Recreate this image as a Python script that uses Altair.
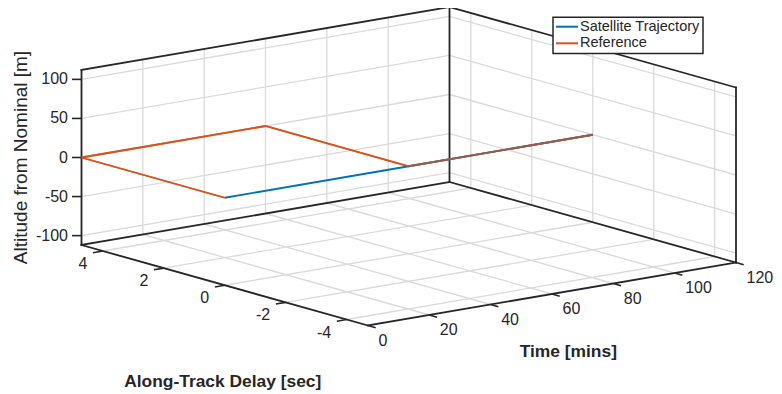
import altair as alt
import pandas as pd
import numpy as np

# ---------------- data ----------------
series = ["Satellite Trajectory", "Reference"]
colors = ["#0072BD", "#D95319"]

sat_time = [0, 60, 120]
sat_delay = [0, 0, 0]
sat_alt = [0, 0, 0]

ref_time = [0, 0, 60, 60, 120]
ref_delay = [0, 4.7, 4.7, 0, 0]
ref_alt = [0, 0, 0, 0, 0]

time_ticks = [0, 20, 40, 60, 80, 100, 120]
delay_ticks = [-4, -2, 0, 2, 4]
alt_ticks = [-100, -50, 0, 50, 100]

time_lim = (0, 120)
delay_lim = (-4.7, 4.7)
alt_lim = (-112, 112)

# ---------------- view (orthographic projection of the axes box) ----------------
ORIGIN = (81.5, 245.0)   # corner: time min, delay max, altitude min
VT = (368.0, -63.0)      # time min -> max
VD = (286.5, 80.5)       # delay max -> min
VZ = (0.0, -175.0)       # altitude min -> max

W, H = 766, 382
M = 8
INK = "#262626"
GRID = "#dadada"
FONT = "Liberation Sans"


def proj(t, d, z):
    ft = (t - time_lim[0]) / (time_lim[1] - time_lim[0])
    fd = (delay_lim[1] - d) / (delay_lim[1] - delay_lim[0])
    fz = (z - alt_lim[0]) / (alt_lim[1] - alt_lim[0])
    return (ORIGIN[0] + ft * VT[0] + fd * VD[0] + fz * VZ[0],
            ORIGIN[1] + ft * VT[1] + fd * VD[1] + fz * VZ[1])


def seg(p, q):
    a = proj(*p)
    b = proj(*q)
    return {"x": a[0], "y": a[1], "x2": b[0], "y2": b[1]}


t0, t1 = time_lim
d0, d1 = delay_lim
z0, z1 = alt_lim

# grid lines on the back walls and floor
grid = []
for t in time_ticks:
    grid.append(seg((t, d1, z0), (t, d1, z1)))
    grid.append(seg((t, d1, z0), (t, d0, z0)))
for z in alt_ticks:
    grid.append(seg((t0, d1, z), (t1, d1, z)))
    grid.append(seg((t1, d1, z), (t1, d0, z)))
for d in delay_ticks:
    grid.append(seg((t1, d, z0), (t1, d, z1)))
    grid.append(seg((t0, d, z0), (t1, d, z0)))
grid_df = pd.DataFrame(grid)

# box edges (back style) plus axis lines
edges = [
    ((t0, d1, z0), (t0, d1, z1)),
    ((t0, d1, z1), (t1, d1, z1)),
    ((t1, d1, z1), (t1, d1, z0)),
    ((t1, d1, z1), (t1, d0, z1)),
    ((t1, d0, z1), (t1, d0, z0)),
    ((t0, d1, z0), (t1, d1, z0)),
    ((t1, d1, z0), (t1, d0, z0)),
    ((t0, d1, z0), (t0, d0, z0)),
    ((t0, d0, z0), (t1, d0, z0)),
]
box_df = pd.DataFrame([seg(a, b) for a, b in edges])

# tick marks and tick labels
vt_n = np.array(VT) / np.hypot(*VT)
vd_n = np.array(VD) / np.hypot(*VD)
ticks, zlab, dlab, tlab = [], [], [], []
for z in alt_ticks:
    px, py = proj(t0, d1, z)
    ticks.append({"x": px, "y": py, "x2": px - 9.5, "y2": py})
    zlab.append({"x": px - 13.5, "y": py, "text": str(z)})
for d in delay_ticks:
    px, py = proj(t0, d, z0)
    ticks.append({"x": px, "y": py, "x2": px - 10 * vt_n[0], "y2": py - 10 * vt_n[1]})
    dlab.append({"x": px - 15.5, "y": py + 13.0, "text": str(d)})
for t in time_ticks:
    px, py = proj(t, d0, z0)
    ticks.append({"x": px, "y": py, "x2": px + 8 * vd_n[0], "y2": py + 8 * vd_n[1]})
    tlab.append({"x": px + 10.5, "y": py + 15.3, "text": str(t)})
ticks_df = pd.DataFrame(ticks)

# data lines
def line_df(ts, ds, zs, name):
    rows = []
    for i, (t, d, z) in enumerate(zip(ts, ds, zs)):
        px, py = proj(t, d, z)
        rows.append({"x": px, "y": py, "i": i, "series": name})
    return pd.DataFrame(rows)

sat_df = line_df(sat_time, sat_delay, sat_alt, series[0])
ref_df = line_df(ref_time, ref_delay, ref_alt, series[1])

# axis titles
mt = proj((t0 + t1) / 2, d0, z0)
md = proj(t0, 0, z0)
mz = proj(t0, d1, 0)
titles_df = pd.DataFrame([
    {"x": mt[0] + 16.3, "y": mt[1] + 57.7, "text": "Time [mins]"},
    {"x": md[0] - 2.0, "y": md[1] + 96.5, "text": "Along-Track Delay [sec]"},
])
ztitle_df = pd.DataFrame([{"x": mz[0] - 61.0, "y": mz[1], "text": "Altitude from Nominal [m]"}])

# legend
LEG_X0, LEG_X1, LEG_Y0, LEG_Y1 = 553.0, 703.0, 17.3, 53.5
leg_rows = pd.DataFrame({
    "series": series,
    "y": [LEG_Y0 + 9.4 + 16.6 * i for i in range(len(series))],
})
leg_rows["x"] = LEG_X0 + 3
leg_rows["x2"] = LEG_X0 + 25
leg_rows["tx"] = LEG_X0 + 27
leg_box = pd.DataFrame([{"x": LEG_X0, "y": LEG_Y0, "x2": LEG_X1, "y2": LEG_Y1}])

# ---------------- chart ----------------
xs = alt.Scale(domain=[M, M + W], nice=False, zero=False)
ys = alt.Scale(domain=[M, M + H], nice=False, zero=False, reverse=True)
cs = alt.Scale(domain=series, range=colors)
X = alt.X("x:Q", scale=xs, axis=None)
Y = alt.Y("y:Q", scale=ys, axis=None)

grid_l = alt.Chart(grid_df).mark_rule(color=GRID, strokeWidth=1.3).encode(X, Y, x2="x2:Q", y2="y2:Q")
box_l = alt.Chart(box_df).mark_rule(color=INK, strokeWidth=1.8, strokeCap="square").encode(X, Y, x2="x2:Q", y2="y2:Q")
tick_l = alt.Chart(ticks_df).mark_rule(color=INK, strokeWidth=1.6).encode(X, Y, x2="x2:Q", y2="y2:Q")

ref_under = alt.Chart(ref_df).mark_line(strokeWidth=1.8, strokeJoin="miter").encode(
    X, Y, order="i:Q", color=alt.Color("series:N", scale=cs, legend=None))
sat_l = alt.Chart(sat_df).mark_line(strokeWidth=1.8).encode(
    X, Y, order="i:Q", color=alt.Color("series:N", scale=cs, legend=None))
ref_over = alt.Chart(ref_df).mark_line(strokeWidth=1.8, opacity=0.7, strokeJoin="miter").encode(
    X, Y, order="i:Q", color=alt.Color("series:N", scale=cs, legend=None))

txt = dict(font=FONT, fontSize=16, color=INK, baseline="middle")
zlab_l = alt.Chart(pd.DataFrame(zlab)).mark_text(align="right", **txt).encode(X, Y, text="text:N")
dlab_l = alt.Chart(pd.DataFrame(dlab)).mark_text(align="right", **txt).encode(X, Y, text="text:N")
tlab_l = alt.Chart(pd.DataFrame(tlab)).mark_text(align="left", **txt).encode(X, Y, text="text:N")

titles_l = alt.Chart(titles_df).mark_text(font=FONT, fontSize=17.4, fontWeight="bold", color=INK,
                                          align="center", baseline="middle").encode(X, Y, text="text:N")
ztitle_l = alt.Chart(ztitle_df).mark_text(font=FONT, fontSize=19, color=INK, angle=270,
                                          align="center", baseline="middle").encode(X, Y, text="text:N")

legbox_l = alt.Chart(leg_box).mark_rect(fill="white", stroke=INK, strokeWidth=1.5).encode(
    X, Y, x2="x2:Q", y2="y2:Q")
legline_l = alt.Chart(leg_rows).mark_rule(strokeWidth=2).encode(
    X, Y, x2="x2:Q", color=alt.Color("series:N", scale=cs, legend=None))
legtext_l = alt.Chart(leg_rows).mark_text(font=FONT, fontSize=14.5, color=INK, align="left",
                                          baseline="middle").encode(
    x=alt.X("tx:Q", scale=xs, axis=None), y=Y, text="series:N")

chart = alt.layer(
    grid_l, box_l, tick_l, ref_under, sat_l, ref_over,
    zlab_l, dlab_l, tlab_l, titles_l, ztitle_l,
    legbox_l, legline_l, legtext_l,
).properties(
    width=W, height=H, autosize=alt.AutoSizeParams(type="none"), padding=0, background="white"
).configure_view(stroke=None)

chart.save("out.html", embed_options={"renderer": "svg", "actions": False})
